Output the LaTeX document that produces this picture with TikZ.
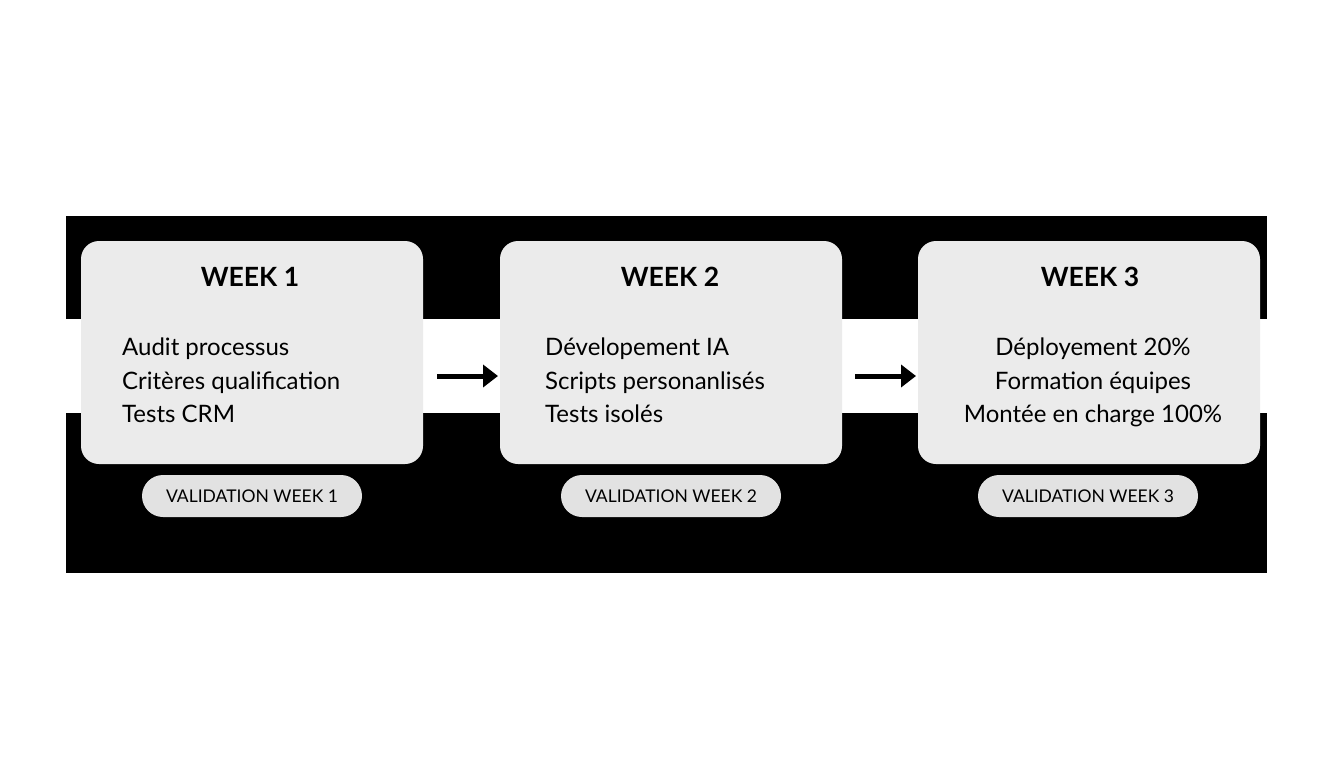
\documentclass[tikz,border=0pt]{standalone}
\usepackage{fontspec}
\setmainfont{Lato}
\usetikzlibrary{arrows.meta}
\definecolor{boxg}{HTML}{EBEBEB}
\definecolor{pillg}{HTML}{E2E2E2}
\begin{document}
\begin{tikzpicture}[x=1pt,y=-1pt,
  box/.style={fill=boxg,rounded corners=18pt,minimum width=342pt,minimum height=223pt,draw=none},
  title/.style={font=\fontsize{26.5}{30}\selectfont\bfseries},
  body/.style={font=\fontsize{24}{33.5}\selectfont,align=left,anchor=north west,inner sep=0pt},
  pill/.style={fill=pillg,rounded corners=21pt,minimum width=220pt,minimum height=42pt,font=\fontsize{17.5}{20}\selectfont},
  arr/.style={-{Triangle[length=15pt,width=22pt]},line width=5pt}]
\useasboundingbox (0,0) rectangle (1344,768);
\fill[white] (0,0) rectangle (1344,768);
\fill[black] (66,216) rectangle (1267,573);
\fill[white] (66,319) rectangle (1267,413);
\node[box] (b1) at (252,352.5) {};
\node[box] (b2) at (671,352.5) {};
\node[box] (b3) at (1089,352.5) {};
\node[title] (t1) at (250,277) {WEEK 1};
\node[title] (t2) at (670,277) {WEEK 2};
\node[title] (t3) at (1090,277) {WEEK 3};
\node[body] (c1) at (122,338) {Audit processus\\Critères qualification\\Tests CRM};
\node[body] (c2) at (545,338) {Dévelopement IA\\Scripts personanlisés\\Tests isolés};
\node[body,align=center,anchor=north] (c3) at (1093,338) {Déployement 20\%\\Formation équipes\\Montée en charge 100\%};
\node[pill] (p1) at (252,496) {VALIDATION WEEK 1};
\node[pill] (p2) at (671,496) {VALIDATION WEEK 2};
\node[pill] (p3) at (1088,496) {VALIDATION WEEK 3};
\coordinate (a1s) at (437,376); \coordinate (a1e) at (498,376);
\coordinate (a2s) at (855,376); \coordinate (a2e) at (916,376);
\draw[arr] (a1s) -- (a1e);
\draw[arr] (a2s) -- (a2e);
\end{tikzpicture}
\end{document}
